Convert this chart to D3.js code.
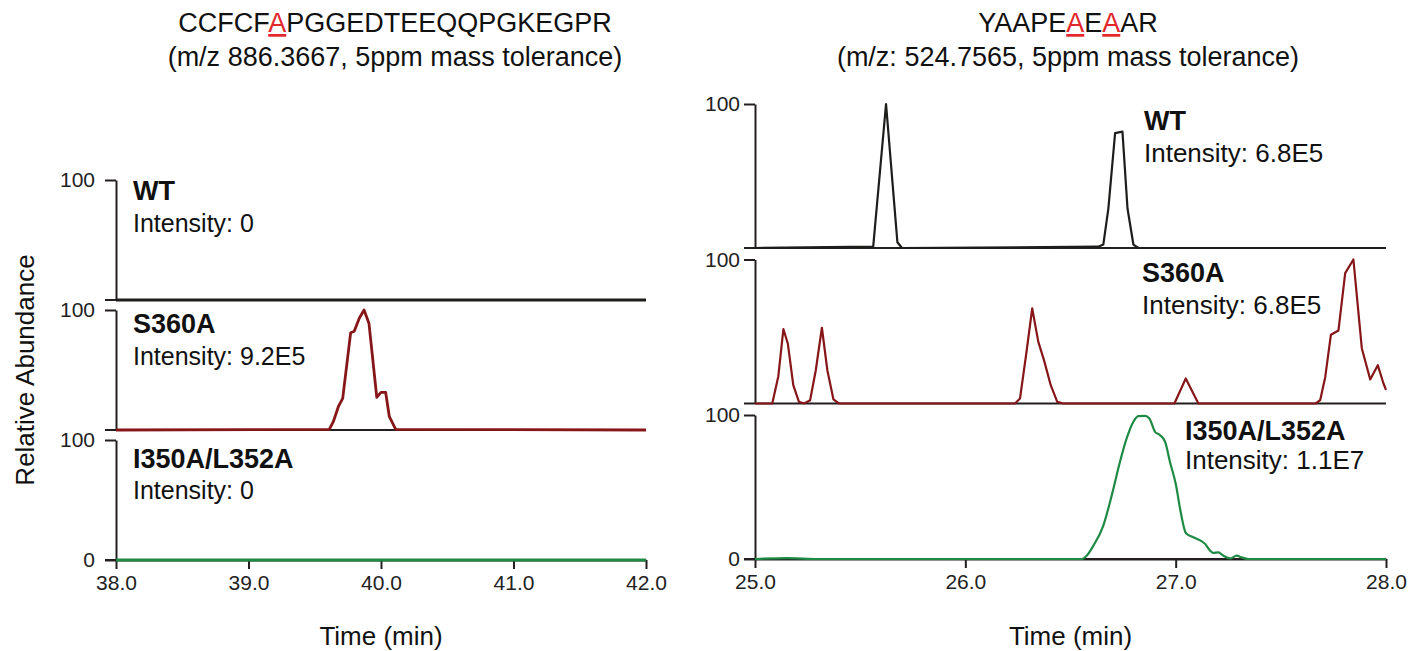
<!DOCTYPE html>
<html>
<head>
<meta charset="utf-8">
<script src="https://cdn.jsdelivr.net/npm/d3@7"></script>
<style>
  body { margin: 0; background: #fff; }
  svg { display: block; }
  text { font-family: "Liberation Sans", Arial, sans-serif; fill: #111; }
</style>
</head>
<body>
<div id="chart"></div>
<script>
// ---- data ----
var strips = ["WT", "S360A", "I350A/L352A"];

var left_domain = [38.0, 42.0];
var left_ticks = [38.0, 39.0, 40.0, 41.0, 42.0];
var left_intensity = ["Intensity: 0", "Intensity: 9.2E5", "Intensity: 0"];

var left_wt_t = [38.0, 42.0];
var left_wt_v = [0, 0];
var left_s360a_t = [38.0, 39.61, 39.64, 39.678, 39.711, 39.771, 39.798, 39.836, 39.872, 39.909, 39.968, 40.0, 40.035, 40.063, 40.111, 42.0];
var left_s360a_v = [0, 0.6, 6.9, 19.4, 26.4, 81.1, 82.3, 93.1, 100, 89, 27.3, 31.4, 31.4, 11.1, 0.6, 0];
var left_i350a_t = [38.0, 42.0];
var left_i350a_v = [0, 0];

var right_domain = [25.0, 28.0];
var right_ticks = [25.0, 26.0, 27.0, 28.0];
var right_intensity = ["Intensity: 6.8E5", "Intensity: 6.8E5", "Intensity: 1.1E7"];

var right_wt_t = [25.0, 25.562, 25.623, 25.677, 25.699, 26.632, 26.656, 26.680, 26.712, 26.747, 26.771, 26.799, 26.823, 28.0];
var right_wt_v = [0, 0.9, 100, 4.0, 0, 0.9, 2.4, 27.4, 79.8, 80.8, 27.4, 2.4, 0, 0];
var right_s360a_t = [25.0, 25.082, 25.111, 25.135, 25.156, 25.182, 25.209, 25.234, 25.262, 25.289, 25.318, 25.344, 25.373, 25.399,
                     26.236, 26.260, 26.288, 26.318, 26.347, 26.374, 26.406, 26.437, 26.466, 26.994, 27.048, 27.108,
                     27.666, 27.687, 27.711, 27.738, 27.774, 27.806, 27.845, 27.885, 27.925, 27.961, 27.988, 28.0];
var right_s360a_v = [0, 0, 19.0, 51.6, 41.7, 12.7, 1.1, 0, 2.3, 23.1, 52.6, 23.1, 2.8, 0,
                     0, 3.5, 32.8, 66.0, 42.8, 30.1, 12.7, 1.1, 0, 0, 17.4, 0,
                     0, 2.3, 18.3, 47.7, 50.7, 90.5, 100, 38.4, 16.7, 26.6, 13.9, 9.5];
var right_i350a_t = [25.0, 25.15, 25.3, 26.553, 26.577, 26.609, 26.656, 26.696, 26.735, 26.767, 26.799, 26.822, 26.854, 26.875,
                     26.902, 26.926, 26.950, 26.973, 27.002, 27.021, 27.049, 27.084, 27.140, 27.164, 27.179, 27.203, 27.227,
                     27.259, 27.290, 27.314, 27.346, 28.0];
var right_i350a_v = [0, 0.6, 0, 0, 2.3, 9.3, 23.2, 44.2, 67.4, 83.7, 95.3, 99.2, 99.4, 97.6,
                     88.3, 86.0, 81.3, 67.4, 51.1, 34.9, 17.9, 15.1, 10.5, 5.8, 4.2, 4.6, 2.3,
                     0.4, 2.3, 1.1, 0, 0];

var colors = ["#1d1d1b", "#861618", "#1e8a44"];
var axis_color = "#231f20";

function zip(t, v) { return t.map(function (d, i) { return {t: d, v: v[i]}; }); }

var svg = d3.select("#chart").append("svg")
      .attr("width", 1408)
      .attr("height", 651);

function draw_panel(p) {
  var x = d3.scaleLinear().domain(p.domain).range([p.x0, p.x1]);
  var g = svg.append("g");

  /* titles */
  var t1 = g.append("text")
        .attr("x", p.cx).attr("y", 32)
        .attr("text-anchor", "middle")
        .style("font-size", "27px");
  p.title.forEach(function (part) {
    var ts = t1.append("tspan").text(part[0]);
    if (part[1]) ts.style("fill", "#e3262b").style("text-decoration", "underline");
  });
  g.append("text")
    .attr("x", p.cx).attr("y", 66)
    .attr("text-anchor", "middle")
    .style("font-size", "27px")
    .text(p.subtitle);

  p.series.forEach(function (s, i) {
    var top = p.tops[i];
    var y = d3.scaleLinear().domain([0, 100]).range([top + p.h, top]);
    var last = (i == p.series.length - 1);

    // baseline, sticks out left as the 0 tick
    g.append("line")
      .attr("x1", p.x0 - 11).attr("x2", p.x1)
      .attr("y1", y(0)).attr("y2", y(0))
      .style("stroke", axis_color).style("stroke-width", 2);

    var ya = g.append("g")
          .attr("transform", "translate(" + p.x0 + ",0)")
          .call(d3.axisLeft(y).tickValues(last ? [0, 100] : [100])
                .tickSize(11).tickSizeOuter(0).tickPadding(p.pad)
                .tickFormat(d3.format("d")));
    ya.select(".domain").style("stroke", axis_color).style("stroke-width", 2);
    ya.selectAll(".tick line").style("stroke", axis_color).style("stroke-width", 2);
    ya.selectAll(".tick text")
      .style("font-size", p.tick_font + "px")
      .style("font-family", "Liberation Sans, Arial, sans-serif")
      .style("fill", "#222");

    if (last) {
      var xa = g.append("g")
            .attr("transform", "translate(0," + y(0) + ")")
            .call(d3.axisBottom(x).tickValues(p.ticks).tickSize(9).tickSizeOuter(0)
                  .tickPadding(6).tickFormat(d3.format(".1f")));
      xa.select(".domain").style("stroke", axis_color).style("stroke-width", 2);
      xa.selectAll(".tick line").style("stroke", axis_color).style("stroke-width", 2);
      xa.selectAll(".tick text")
        .style("font-size", p.tick_font + "px")
        .style("font-family", "Liberation Sans, Arial, sans-serif")
        .style("fill", "#222");
    }

    var line = d3.line()
          .x(function (d) { return x(d.t); })
          .y(function (d) { return y(d.v); })
          .curve(i == 2 ? d3.curveMonotoneX : d3.curveLinear);

    g.append("path")
      .datum(s)
      .attr("d", line)
      .style("fill", "none")
      .style("stroke", colors[i])
      .style("stroke-width", p.lw)
      .style("stroke-linejoin", "round");

    /* strip label */
    g.append("text")
      .attr("x", p.lx[i]).attr("y", top + p.ly[i][0])
      .style("font-size", "27px").style("font-weight", "bold")
      .text(strips[i]);
    g.append("text")
      .attr("x", p.lx[i]).attr("y", top + p.ly[i][1])
      .style("font-size", p.label_font + "px")
      .text(p.intensity[i]);
  });

  g.append("text")
    .attr("x", (p.x0 + p.x1) / 2).attr("y", 645)
    .attr("text-anchor", "middle")
    .style("font-size", "26px")
    .text("Time (min)");
}

draw_panel({
  domain: left_domain, ticks: left_ticks, x0: 116, x1: 646, cx: 395,
  tops: [180, 310, 440], h: 120, pad: 10, tick_font: 21, lw: 2.8, label_font: 25,
  title: [["CCFCF", false], ["A", true], ["PGGEDTEEQQPGKEGPR", false]],
  subtitle: "(m/z 886.3667, 5ppm mass tolerance)",
  series: [zip(left_wt_t, left_wt_v), zip(left_s360a_t, left_s360a_v), zip(left_i350a_t, left_i350a_v)],
  intensity: left_intensity,
  lx: [133, 133, 133], ly: [[20, 52], [23, 55], [28, 59]]
});

draw_panel({
  domain: right_domain, ticks: right_ticks, x0: 755, x1: 1386, cx: 1068,
  tops: [104, 259.5, 415], h: 144, pad: 4, tick_font: 21, lw: 2.2, label_font: 26,
  title: [["YAAPE", false], ["A", true], ["E", false], ["A", true], ["AR", false]],
  subtitle: "(m/z: 524.7565, 5ppm mass tolerance)",
  series: [zip(right_wt_t, right_wt_v), zip(right_s360a_t, right_s360a_v), zip(right_i350a_t, right_i350a_v)],
  intensity: right_intensity,
  lx: [1144, 1142, 1185], ly: [[26, 58], [22, 54], [25, 54]]
});

/* shared y label */
svg.append("text")
  .attr("transform", "translate(34,370) rotate(-90)")
  .attr("text-anchor", "middle")
  .style("font-size", "26px")
  .text("Relative Abundance");
</script>
</body>
</html>
